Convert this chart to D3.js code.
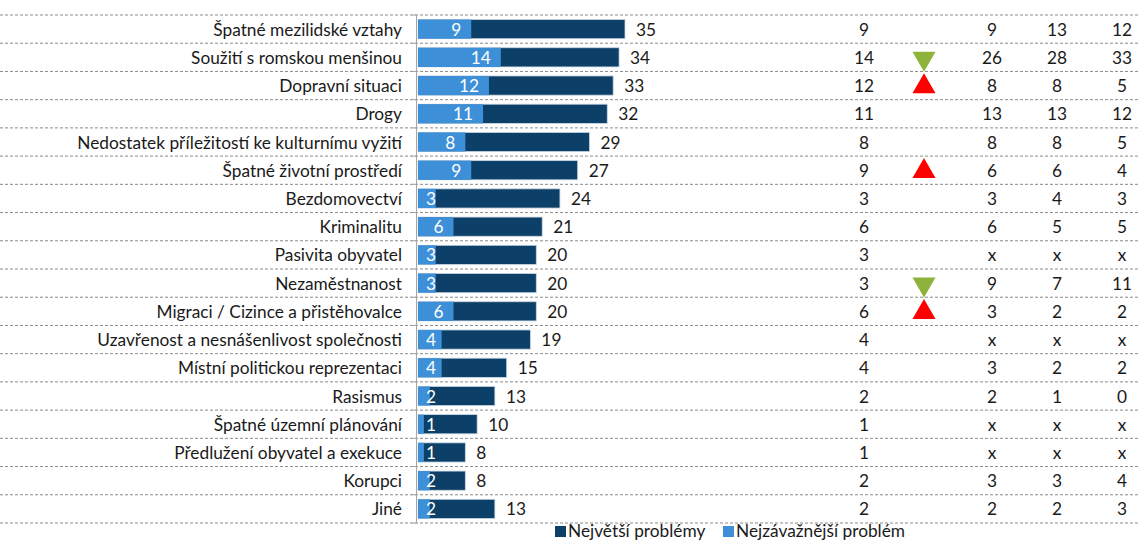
<!DOCTYPE html>
<html>
<head>
<meta charset="utf-8">
<script src="https://cdn.jsdelivr.net/npm/d3@7"></script>
<style>
  body { margin: 0; background: #fff; }
  svg { display: block; font-family: Lato, "Open Sans", sans-serif; }
  .lbl { fill: #1a1a1a; font-size: 17.3px; }
</style>
</head>
<body>
<svg id="Vis" width="1139" height="541"></svg>
<script>
/*
* DATA
*/
const categories = [
  "Špatné mezilidské vztahy",
  "Soužití s romskou menšinou",
  "Dopravní situaci",
  "Drogy",
  "Nedostatek příležitostí ke kulturnímu vyžití",
  "Špatné životní prostředí",
  "Bezdomovectví",
  "Kriminalitu",
  "Pasivita obyvatel",
  "Nezaměstnanost",
  "Migraci / Cizince a přistěhovalce",
  "Uzavřenost a nesnášenlivost společnosti",
  "Místní politickou reprezentaci",
  "Rasismus",
  "Špatné územní plánování",
  "Předlužení obyvatel a exekuce",
  "Korupci",
  "Jiné"
];

// Největší problémy (dark bars)
const biggest = [35, 34, 33, 32, 29, 27, 24, 21, 20, 20, 20, 19, 15, 13, 10, 8, 8, 13];
// Nejzávažnější problém (light bars, also first table column)
const mostSerious = [9, 14, 12, 11, 8, 9, 3, 6, 3, 3, 6, 4, 4, 2, 1, 1, 2, 2];
// trend markers: "up" / "down" / ""
const trend = ["", "down", "up", "", "", "up", "", "", "", "down", "up", "", "", "", "", "", "", ""];
// earlier waves
const wave1 = ["9", "26", "8", "13", "8", "6", "3", "6", "x", "9", "3", "x", "3", "2", "x", "x", "3", "2"];
const wave2 = ["13", "28", "8", "13", "8", "6", "4", "5", "x", "7", "2", "x", "2", "1", "x", "x", "3", "2"];
const wave3 = ["12", "33", "5", "12", "5", "4", "3", "5", "x", "11", "2", "x", "2", "0", "x", "x", "4", "3"];

const legendItems = ["Největší problémy", "Nejzávažnější problém"];

/*
* SETUP
*/
const svg = d3.select("svg#Vis");
const width = 1139;

const colors = {
  dark: "#0c4068",
  light: "#3d8fd8",
  up: "#ff0000",
  down: "#8db33b",
  grid: "#8a8a8a"
};

const rows = categories.map((c, i) => ({
  cat: c, big: biggest[i], serious: mostSerious[i], trend: trend[i],
  w1: wave1[i], w2: wave2[i], w3: wave3[i]
}));

const y = d3.scaleBand()
  .domain(categories)
  .range([15, 523])
  .paddingInner(0.32)
  .paddingOuter(0.16);

const step = y.step();
const x = d3.scaleLinear().domain([0, 35]).range([418, 625]);

const baseY = d => y(d.cat) + y.bandwidth() / 2 + 6.5;

/* dashed row separators */
const bounds = d3.range(categories.length + 1).map(i => 15 + i * step);
svg.append("g").selectAll("line")
  .data(bounds)
  .join("line")
    .attr("x1", 0).attr("x2", width)
    .attr("y1", d => d).attr("y2", d => d)
    .attr("stroke", colors.grid)
    .attr("stroke-width", 1)
    .attr("stroke-dasharray", "3,2");

/* axis line with small ticks */
const axis = svg.append("g");
axis.append("line")
  .attr("x1", 416.5).attr("x2", 416.5)
  .attr("y1", 15).attr("y2", 523)
  .attr("stroke", "#a6a6a6");
axis.selectAll("line.tick")
  .data(bounds)
  .join("line")
    .attr("class", "tick")
    .attr("x1", 412).attr("x2", 416.5)
    .attr("y1", d => d).attr("y2", d => d)
    .attr("stroke", "#a6a6a6");

/* category labels */
svg.append("g").selectAll("text")
  .data(rows)
  .join("text")
    .attr("class", "lbl")
    .attr("x", 402)
    .attr("y", baseY)
    .attr("text-anchor", "end")
    .text(d => d.cat);

/* bars */
const bars = svg.append("g");
bars.selectAll("rect.big")
  .data(rows)
  .join("rect")
    .attr("class", "big")
    .attr("x", x(0))
    .attr("y", d => y(d.cat))
    .attr("width", d => x(d.big) - x(0))
    .attr("height", y.bandwidth())
    .attr("fill", colors.dark)
    .attr("stroke", "#c9d6e3")
    .attr("stroke-width", 0.8);

bars.selectAll("rect.serious")
  .data(rows)
  .join("rect")
    .attr("class", "serious")
    .attr("x", x(0))
    .attr("y", d => y(d.cat))
    .attr("width", d => x(d.serious) - x(0))
    .attr("height", y.bandwidth())
    .attr("fill", colors.light);

/* value labels */
bars.selectAll("text.inside")
  .data(rows)
  .join("text")
    .attr("class", "inside")
    .attr("x", d => Math.max(x(d.serious) - 10, x(0) + 18))
    .attr("y", baseY)
    .attr("text-anchor", "end")
    .attr("fill", "#fff")
    .style("font-size", "17.3px")
    .text(d => d.serious);

bars.selectAll("text.total")
  .data(rows)
  .join("text")
    .attr("class", "lbl total")
    .attr("x", d => x(d.big) + 11)
    .attr("y", baseY)
    .text(d => d.big);

/* table columns */
const cols = [
  { x: 864, key: "serious" },
  { x: 992, key: "w1" },
  { x: 1057, key: "w2" },
  { x: 1122, key: "w3" }
];
const table = svg.append("g");
cols.forEach(col => {
  table.append("g").selectAll("text")
    .data(rows)
    .join("text")
      .attr("class", "lbl")
      .attr("x", col.x)
      .attr("y", baseY)
      .attr("text-anchor", "middle")
      .text(d => d[col.key]);
});

/* trend triangles */
const tri = d3.symbol().type(d3.symbolTriangle).size(230);
table.append("g").selectAll("path")
  .data(rows.filter(d => d.trend))
  .join("path")
    .attr("d", tri)
    .attr("transform", d => {
      const cy = y(d.cat) + y.bandwidth() / 2 + 1;
      return "translate(924," + cy + ")" + (d.trend === "down" ? " rotate(180)" : "");
    })
    .attr("fill", d => d.trend === "up" ? colors.up : colors.down);

/* legend */
const legend = svg.append("g").attr("transform", "translate(555,525)");
const lx = [0, 168];
legendItems.forEach((name, i) => {
  const it = legend.append("g").attr("transform", "translate(" + lx[i] + ",0)");
  it.append("rect")
    .attr("y", 1)
    .attr("width", 11).attr("height", 11)
    .attr("fill", i === 0 ? colors.dark : colors.light);
  it.append("text")
    .attr("class", "lbl")
    .attr("x", 13)
    .attr("y", 12)
    .text(name);
});
</script>
</body>
</html>
